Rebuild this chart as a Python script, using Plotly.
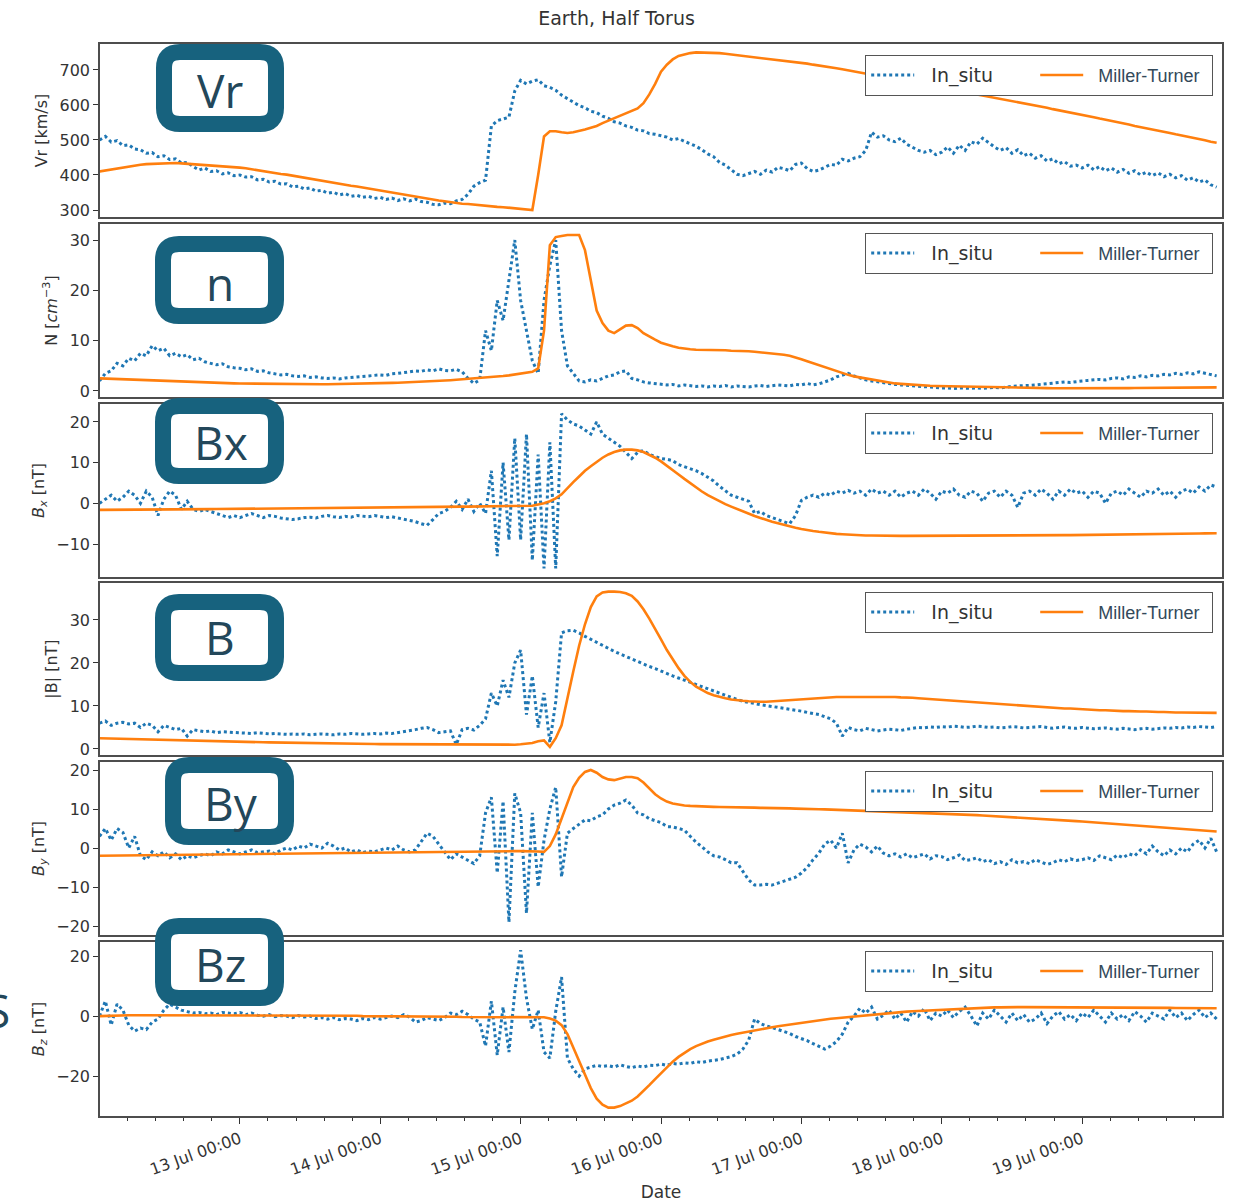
import pandas as pd
import plotly.graph_objects as go

# ---------------------------------------------------------------------------
# Hourly time grid, 12 Jul 00:00 to 19 Jul 23:00
# ---------------------------------------------------------------------------
TIMES = pd.date_range("2012-07-12 00:00", periods=192, freq="h")

# Solar wind radial speed [km/s]
VR_INSITU = [
    500, 510, 494, 498, 484, 486, 474, 472, 462, 464, 452, 455, 444, 446, 434, 436, 424, 414, 420, 410, 412, 403, 406, 398,
    400, 394, 395, 386, 388, 380, 382, 374, 375, 366, 368, 360, 363, 354, 356, 348, 351, 343, 347, 339, 342, 336, 339, 333,
    336, 330, 334, 327, 332, 326, 331, 324, 322, 316, 315, 320, 318, 326, 330, 345, 368, 378, 385, 540, 555, 560, 565, 640,
    670, 660, 668, 672, 655, 650, 642, 628, 618, 608, 598, 592, 582, 578, 568, 562, 552, 548, 540, 536, 528, 526, 518, 516,
    512, 508, 500, 504, 496, 490, 482, 472, 460, 452, 436, 428, 415, 402, 398, 404, 410, 402, 414, 408, 422, 418, 412, 430,
    434, 418, 410, 414, 422, 430, 428, 445, 440, 448, 452, 470, 522, 508, 512, 500, 495, 505, 488, 480, 470, 465, 470, 458,
    465, 480, 462, 485, 470, 495, 488, 505, 492, 480, 470, 478, 462, 472, 455, 462, 448, 455, 440, 446, 432, 438, 425, 428,
    420, 428, 415, 424, 412, 420, 408, 416, 405, 412, 400, 408, 398, 406, 395, 402, 392, 398, 385, 392, 380, 386, 372, 365,
]
VR_MODEL = [
    410, 413, 416, 419, 422, 425, 427, 429, 431, 432, 433, 434, 434, 434, 433, 432, 431, 430, 429, 428, 427, 425, 424, 423,
    421, 419, 416, 414, 411, 409, 406, 403, 401, 398, 394, 391, 388, 386, 383, 380, 378, 375, 372, 369, 367, 364, 361, 358,
    355, 352, 349, 346, 343, 340, 337, 335, 332, 330, 327, 325, 322, 320, 318, 317, 315, 314, 313, 311, 309, 308, 306, 305,
    303, 302, 300, 400, 510, 525, 525, 522, 520, 522, 525, 530, 535, 540, 548, 555, 562, 570, 575, 582, 590, 605, 630, 660,
    695, 715, 730, 740, 745, 748, 750, 750, 750, 749, 748, 746, 744, 743, 742, 740, 738, 736, 734, 732, 730, 727, 725, 722,
    720, 718, 715, 713, 710, 708, 705, 702, 699, 696, 693, 690, 687, 684, 681, 678, 674, 671, 668, 665, 662, 659, 655, 652,
    649, 646, 643, 640, 636, 633, 630, 627, 624, 620, 617, 614, 611, 608, 604, 601, 598, 595, 592, 588, 585, 582, 579, 576,
    572, 568, 565, 561, 558, 554, 551, 547, 544, 540, 537, 533, 530, 527, 523, 520, 516, 513, 509, 506, 502, 499, 495, 492,
]

# Proton density [cm^-3]
N_INSITU = [
    2, 3.5, 4, 5.5, 5, 6.5, 6, 7.5, 7, 9, 8, 8.5, 7, 7.5, 6.8, 7.2, 6.2, 6.5, 5.8, 5.5, 5.2, 5.4, 4.8, 4.6,
    4.5, 4.2, 4.4, 3.9, 4, 3.6, 3.4, 3.2, 3.3, 3, 2.9, 3, 2.7, 2.8, 2.6, 2.5, 2.6, 2.4, 2.6, 2.7, 2.8, 2.9, 3, 3.1,
    3.2, 3.1, 3.4, 3.5, 3.6, 3.8, 4, 3.9, 4.2, 4, 4.4, 4.1, 4, 4.3, 3.8, 2.5, 1.5, 2.2, 12, 8, 18, 14, 22, 30,
    18, 12, 6, 3.5, 18, 25, 30, 12, 5, 3.5, 2, 1.8, 2.2, 2, 2.5, 3, 3.2, 3.8, 4, 2.5, 2.2, 1.8, 1.6, 1.5,
    1.4, 1.2, 1.3, 1, 1.2, 1, 0.9, 1, 0.8, 1, 0.9, 1.1, 0.8, 1, 0.9, 0.8, 1, 1.1, 0.9, 1, 1.2, 1.1, 1, 1.3,
    1.2, 1.5, 1.2, 1.4, 1.8, 2.2, 2.8, 3.2, 3.5, 3, 2.6, 2.2, 2, 1.8, 1.6, 1.5, 1.3, 1.2, 1.1, 1, 0.9, 0.8, 0.8, 0.7,
    0.6, 0.6, 0.5, 0.6, 0.5, 0.5, 0.6, 0.5, 0.6, 0.7, 0.6, 0.8, 0.9, 1, 1, 1.1, 1.2, 1.3, 1.4, 1.5, 1.6, 1.8, 1.7, 1.9,
    2, 2.1, 2.2, 2.3, 2.2, 2.5, 2.6, 2.4, 2.8, 2.7, 3, 2.8, 3.1, 3, 3.3, 3.2, 3.5, 3.3, 3.6, 3.4, 3.8, 3.5, 3.2, 3,
]
N_MODEL = [
    2.5, 2.45, 2.4, 2.35, 2.3, 2.25, 2.2, 2.15, 2.1, 2.05, 2.0, 1.95, 1.9, 1.85, 1.8, 1.76, 1.72, 1.68, 1.64, 1.6, 1.57, 1.54, 1.51, 1.5,
    1.48, 1.46, 1.44, 1.42, 1.4, 1.38, 1.36, 1.35, 1.34, 1.33, 1.32, 1.32, 1.32, 1.33, 1.34, 1.35, 1.36, 1.38, 1.4, 1.42, 1.44, 1.46, 1.48, 1.5,
    1.53, 1.56, 1.6, 1.64, 1.68, 1.72, 1.77, 1.82, 1.88, 1.94, 2.0, 2.07, 2.14, 2.22, 2.3, 2.38, 2.47, 2.56, 2.66, 2.76, 2.87, 2.98, 3.1, 3.25,
    3.4, 3.6, 3.8, 4.5, 12, 29, 30.6, 30.8, 31, 31, 31, 28, 22, 16, 13.5, 12, 11.5, 12.2, 13, 13.1, 12.5, 11.5, 10.8, 10.2,
    9.6, 9.2, 8.9, 8.6, 8.4, 8.3, 8.2, 8.2, 8.2, 8.2, 8.1, 8.1, 8.0, 8.0, 7.9, 7.9, 7.8, 7.7, 7.6, 7.5, 7.4, 7.2, 7.0, 6.7,
    6.3, 5.9, 5.5, 5.1, 4.7, 4.3, 3.9, 3.5, 3.2, 2.9, 2.7, 2.4, 2.2, 2.0, 1.8, 1.65, 1.5, 1.4, 1.3, 1.22, 1.15, 1.08, 1.03, 1.0,
    0.97, 0.93, 0.9, 0.87, 0.84, 0.81, 0.78, 0.76, 0.74, 0.72, 0.7, 0.68, 0.66, 0.64, 0.62, 0.6, 0.58, 0.57, 0.56, 0.55, 0.54, 0.54, 0.53, 0.53,
    0.53, 0.53, 0.53, 0.54, 0.54, 0.55, 0.55, 0.56, 0.57, 0.58, 0.59, 0.6, 0.61, 0.62, 0.63, 0.64, 0.65, 0.66, 0.67, 0.68, 0.69, 0.7, 0.71, 0.72,
]

# Magnetic field, x component [nT]
BX_INSITU = [
    0, 1, 2, 0.5, 1.5, 3, 2, 0, 3, 1.5, -3, 1, 3, 2, -1.5, 0.5, -1.5, -2, -1.5, -2, -2.5, -3, -3.5, -3,
    -3.5, -3, -2.5, -3, -3.5, -3, -3.2, -3.6, -3.8, -4, -3.8, -3.5, -3.4, -3.6, -3.2, -3, -3.3, -3.5, -3.2, -3.4, -3, -3.2, -3.3, -3,
    -3.2, -3.5, -3.3, -3.6, -4, -4.2, -4.5, -5, -5.4, -4, -2.5, -2, -1, 0.5, -1.5, 1, -2, 0, -2.5, 8, -13, 10, -9, 16,
    -9, 17, -14, 12, -16, 15, -16, 22, 20.5, 19.5, 19, 18, 17, 20, 17, 16, 15, 14, 12.5, 11, 12.5, 13, 12, 11.5,
    11, 10.8, 10.5, 9.5, 9, 8.5, 8, 7.3, 6.5, 5.5, 4.2, 3, 2, 1.5, 1, 0.5, -2.5, -2, -3, -3.5, -4, -4.5, -5, -3,
    0.7, 1.5, 2, 1.5, 2.5, 2, 3, 2.5, 3.2, 2.5, 3, 2, 3.5, 2.5, 3, 2, 3, 1.5, 2.5, 3, 2, 3.5, 2.5, 1,
    3, 2.5, 3.5, 2, 1.5, 3, 2.5, 0.5, 2.5, 3, 1.5, 3, 2, -1, 2.5, 3, 2, 3.5, 2.5, 1, 3, 2, 3.5, 2.5,
    3, 1.5, 3, 2.5, 0, 2.5, 3, 2, 3.5, 2.5, 1.5, 3, 2.5, 3.5, 2, 3, 1.5, 3, 3.5, 2.5, 4, 3, 4.5, 4,
]
BX_MODEL = [
    -1.6, -1.6, -1.59, -1.58, -1.57, -1.56, -1.55, -1.54, -1.53, -1.52, -1.51, -1.5, -1.49, -1.48, -1.47, -1.46, -1.45, -1.44, -1.43, -1.42, -1.41, -1.4, -1.39, -1.38,
    -1.35, -1.34, -1.32, -1.31, -1.3, -1.28, -1.27, -1.26, -1.24, -1.23, -1.22, -1.2, -1.19, -1.18, -1.16, -1.15, -1.14, -1.12, -1.11, -1.1, -1.08, -1.07, -1.06, -1.04,
    -1.03, -1.01, -1.0, -0.98, -0.97, -0.95, -0.94, -0.92, -0.91, -0.89, -0.88, -0.86, -0.85, -0.83, -0.82, -0.8, -0.79, -0.77, -0.76, -0.74, -0.73, -0.71, -0.7, -0.68,
    -0.66, -0.63, -0.6, -0.3, 0, 0.5, 1.2, 2.2, 3.8, 5.2, 6.6, 8.0, 9.1, 10.2, 11.2, 12, 12.6, 13, 13.2, 13.2, 13, 12.6, 12, 11.2,
    10.3, 9.3, 8.2, 7.1, 6.0, 4.9, 3.9, 2.9, 2.0, 1.2, 0.5, -0.2, -0.8, -1.4, -2.0, -2.6, -3.1, -3.6, -4.1, -4.5, -4.9, -5.3, -5.7, -6.0,
    -6.3, -6.6, -6.8, -7.0, -7.2, -7.3, -7.5, -7.6, -7.7, -7.8, -7.8, -7.9, -7.9, -7.95, -8.0, -8.0, -8.0, -8.0, -8.0, -8.0, -8.0, -8.0, -8.0, -8.0,
    -8.0, -8.0, -8.0, -8.0, -8.0, -8.0, -7.99, -7.98, -7.97, -7.96, -7.95, -7.94, -7.93, -7.92, -7.91, -7.9, -7.89, -7.88, -7.86, -7.85, -7.84, -7.82, -7.81, -7.8,
    -7.78, -7.77, -7.75, -7.74, -7.72, -7.7, -7.68, -7.67, -7.65, -7.63, -7.61, -7.59, -7.57, -7.55, -7.53, -7.51, -7.49, -7.47, -7.45, -7.43, -7.41, -7.39, -7.37, -7.35,
]

# Magnetic field magnitude [nT]
B_INSITU = [
    6, 6.5, 5.5, 6, 6.2, 5.8, 6, 5, 6, 5.5, 4, 5.5, 5, 4.5, 4.8, 3, 4.5, 4.2, 4, 4.2, 3.8, 4, 3.9, 3.8,
    3.8, 3.7, 3.6, 3.8, 3.6, 3.5, 3.6, 3.5, 3.4, 3.5, 3.4, 3.5, 3.3, 3.4, 3.5, 3.4, 3.3, 3.5, 3.4, 3.6, 3.5, 3.4, 3.5, 3.6,
    3.5, 3.7, 3.6, 3.8, 4, 4.3, 4.5, 4.8, 5, 4.5, 3.8, 4, 4.2, 1, 4.5, 4.8, 4.4, 5.5, 7, 13, 10, 16, 12, 20,
    23, 8, 17, 5, 13, 1.5, 11, 27, 27.5, 27.6, 27, 26.2, 25.5, 24.8, 24, 23.3, 22.7, 22.1, 21.5, 20.9, 20.3, 19.7, 19.2, 18.7,
    18.1, 17.6, 17.0, 16.5, 16.0, 15.5, 15.0, 14.4, 13.9, 13.4, 12.9, 12.4, 11.9, 11.5, 11.1, 10.8, 10.5, 10.3, 10.1, 9.9, 9.7, 9.5, 9.2, 9.0,
    8.8, 8.5, 8.3, 8.0, 7.5, 7.0, 6, 3, 5, 4.5, 4.2, 4.8, 4.5, 4.2, 4.4, 4.6, 4.5, 4.3, 4.6, 4.8, 5, 4.9, 5.1, 5,
    5.2, 5.1, 5.3, 5.2, 5, 5.1, 5.3, 5.2, 5, 5.1, 4.9, 5, 5.2, 5.1, 4.9, 5, 5.1, 5.2, 5, 4.8, 5, 5.1, 4.9, 4.8,
    5, 4.9, 4.7, 4.8, 4.9, 4.7, 4.6, 4.8, 4.7, 4.5, 4.7, 4.8, 4.6, 4.7, 4.9, 4.8, 5, 4.9, 5.1, 5, 5.2, 5.1, 5, 5.2,
]
B_MODEL = [
    2.5, 2.46, 2.42, 2.38, 2.34, 2.3, 2.26, 2.22, 2.18, 2.14, 2.1, 2.07, 2.04, 2.01, 1.98, 1.95, 1.92, 1.89, 1.86, 1.83, 1.8, 1.77, 1.74, 1.71,
    1.68, 1.65, 1.62, 1.59, 1.56, 1.53, 1.5, 1.48, 1.46, 1.44, 1.42, 1.4, 1.38, 1.36, 1.34, 1.32, 1.3, 1.28, 1.26, 1.24, 1.22, 1.2, 1.18, 1.16,
    1.14, 1.13, 1.12, 1.11, 1.1, 1.09, 1.08, 1.07, 1.06, 1.05, 1.04, 1.03, 1.02, 1.01, 1.0, 1.0, 1.0, 1.0, 1.0, 1.0, 1.0, 1.0, 1.0, 1.0,
    1.1, 1.2, 1.4, 1.8, 2.0, 0.5, 2.5, 5.5, 12, 18, 24, 29, 33, 35.5, 36.4, 36.6, 36.6, 36.5, 36.2, 35.6, 34.3, 32.5, 30.3, 28,
    25.5, 23, 20.8, 18.8, 17.0, 15.6, 14.5, 13.7, 13.0, 12.5, 12.1, 11.8, 11.5, 11.3, 11.2, 11.1, 11.0, 11.0, 11.0, 11.1, 11.2, 11.3, 11.4, 11.5,
    11.6, 11.7, 11.8, 11.9, 12.0, 12.0, 12.1, 12.1, 12.1, 12.2, 12.2, 12.2, 12.2, 12.2, 12.2, 12.1, 12.1, 12.0, 12.0, 11.9, 11.8, 11.7, 11.6, 11.5,
    11.4, 11.3, 11.2, 11.1, 11.0, 10.9, 10.8, 10.7, 10.6, 10.5, 10.4, 10.3, 10.2, 10.1, 10.0, 9.9, 9.8, 9.7, 9.7, 9.6, 9.5, 9.4, 9.4, 9.3,
    9.2, 9.2, 9.1, 9.0, 9.0, 8.9, 8.9, 8.8, 8.8, 8.7, 8.7, 8.7, 8.6, 8.6, 8.6, 8.5, 8.5, 8.5, 8.5, 8.4, 8.4, 8.4, 8.4, 8.4,
]

# Magnetic field, y component [nT]
BY_INSITU = [
    3, 5, 2, 5, 4, 0, 3, -2, -3, -1, -2, -1, -2.5, -1.5, -3, -2, -2.5, -2, -1.5, -2, -1, -1.5, -0.5, -1,
    -1.5, -1, -0.5, -1.2, -1, -0.8, -1.5, -0.5, 0, -0.5, 0.5, 0, 1, 0.5, 0, 1.2, 0.5, -0.5, 0, -1, -0.5, -1.2, -0.8, -1,
    -0.5, 0, -0.5, 0.5, -0.5, -1, -0.5, 1.5, 3.8, 3, 1, -1, -3, -1.5, -2.3, -3, -4, -2, 9, 13, -6.4, 12, -19, 14,
    9, -16.7, 9, -10, 2, 10, 15.6, -7.4, 3.8, 5, 6, 7.2, 7, 8, 8.5, 10, 11, 11.5, 12.3, 11, 9, 8.5, 7.5, 7,
    6.5, 5.5, 5.4, 5, 4.6, 3, 1.5, 0.3, -1, -2, -2.3, -3, -3.8, -3.8, -6, -8.2, -9.5, -9.5, -9.3, -9.5, -9, -8.5, -8.2, -7.5,
    -6.4, -5, -3, -1.3, 1, 2, 0, 3.8, -3.8, -0.5, 1, 0.3, -1, 0.5, -1.3, -2, -1.5, -2.3, -1.5, -2.5, -2, -1.5, -2.8, -2,
    -2.2, -3, -2.5, -1.8, -3.2, -3, -2.5, -3.5, -3, -4, -3.5, -4.2, -3, -3.8, -3.5, -4, -3, -3.5, -4.2, -3.8, -3, -3.5, -2.8, -3.2,
    -3, -2.5, -3.2, -2, -2.5, -3, -1.8, -2.5, -1.5, -2, -0.5, -1.5, 0.5, -1, -2, -0.5, -1.5, 0, -1, 1, 2, 0, 2.5, -1,
]
BY_MODEL = [
    -2, -1.98, -1.96, -1.94, -1.92, -1.9, -1.88, -1.86, -1.84, -1.82, -1.8, -1.78, -1.76, -1.74, -1.72, -1.7, -1.68, -1.66, -1.64, -1.62, -1.6, -1.58, -1.56, -1.54,
    -1.52, -1.5, -1.48, -1.46, -1.44, -1.42, -1.4, -1.38, -1.36, -1.34, -1.32, -1.3, -1.28, -1.26, -1.24, -1.22, -1.2, -1.18, -1.16, -1.14, -1.12, -1.1, -1.08, -1.06,
    -1.04, -1.02, -1.0, -0.99, -0.98, -0.97, -0.96, -0.95, -0.94, -0.93, -0.92, -0.91, -0.9, -0.89, -0.88, -0.87, -0.86, -0.85, -0.84, -0.83, -0.82, -0.81, -0.8, -0.8,
    -0.8, -0.8, -0.8, -0.9, -1, 0.5, 3.5, 7.5, 12, 15.6, 18, 19.5, 20, 19.3, 18.2, 17.6, 17.4, 17.8, 18.2, 18.2, 17.9, 16.8, 15.2, 13.8,
    12.7, 11.9, 11.4, 11.1, 10.9, 10.8, 10.7, 10.6, 10.6, 10.55, 10.5, 10.5, 10.45, 10.45, 10.4, 10.4, 10.35, 10.3, 10.3, 10.25, 10.2, 10.2, 10.15, 10.1,
    10.1, 10.05, 10.0, 9.95, 9.9, 9.85, 9.8, 9.75, 9.7, 9.65, 9.6, 9.55, 9.5, 9.45, 9.4, 9.35, 9.3, 9.25, 9.2, 9.15, 9.1, 9.05, 9.0, 8.93,
    8.86, 8.79, 8.72, 8.65, 8.58, 8.5, 8.42, 8.34, 8.26, 8.18, 8.1, 8.0, 7.91, 7.82, 7.73, 7.64, 7.55, 7.46, 7.37, 7.28, 7.18, 7.08, 6.98, 6.88,
    6.78, 6.67, 6.56, 6.45, 6.34, 6.23, 6.12, 6.0, 5.89, 5.78, 5.67, 5.56, 5.45, 5.34, 5.23, 5.12, 5.01, 4.9, 4.79, 4.68, 4.57, 4.46, 4.35, 4.24,
]

# Magnetic field, z component [nT]
BZ_INSITU = [
    0, 5, -3, 4, 2, -3, -5, -4, -4.5, -2, -1, 2, 4, 3, 2, 1.5, 1, 1.2, 0.8, 1, 0.5, 1.2, 1, 0.8,
    1.2, 0.5, 1, 0.3, 0, 0.5, -0.2, 0.2, 0, -0.5, 0.2, -0.3, 0, -0.8, -0.5, -1, -0.5, -1.2, -0.8, -1, -1.5, -0.8, -1.2, -0.5,
    -1, -0.5, 0, -0.5, 0.5, -0.3, -2, -1.5, -0.5, -1, -1.5, -0.5, 1, 0.5, 1.6, 0.5, -1, -2, -10, 5, -13, 3, -12, 8,
    22, 6, -4.4, 2, -12, -14, 1.6, 13, -14, -17.6, -20, -17.6, -17, -16.4, -16.8, -16.5, -17, -16.2, -16.8, -17.2, -16.6, -17, -16.4, -16.5,
    -16, -16.4, -15.8, -16, -15.6, -15.8, -15.2, -15.5, -15, -14.8, -14.5, -14, -13.5, -12.7, -11, -8, -1, -2.5, -3.3, -3.8, -4.4, -5, -5.8, -6.8,
    -7.5, -8.2, -9.2, -10, -11, -10, -8.5, -6, -2, 0, 2.6, 1, 3, -1, 0.3, 2, -1, 1, -2, 1.5, 0, 2.5, -1.5, 1,
    0, 2, -0.5, 1.6, 3, 0, -3.3, 1, -1, 2, 0, -2, 1, -1.5, 0.5, -2, -1, 1, -2.5, 0, 1.5, -1, 0.5, -1.5,
    1, -0.5, 2, 0, -2, 1, -1, 0.5, -1.5, 1.5, 0, -2, 1, 0, -1, 2, -0.5, 1, -1.5, 0.5, 2, -0.5, 1, -1,
]
BZ_MODEL = [
    0, 0.1, 0.2, 0.2, 0.3, 0.3, 0.3, 0.3, 0.3, 0.3, 0.3, 0.3, 0.3, 0.3, 0.3, 0.3, 0.3, 0.3, 0.3, 0.3, 0.3, 0.3, 0.3, 0.3,
    0.3, 0.3, 0.3, 0.3, 0.3, 0.3, 0.3, 0.2, 0.2, 0.2, 0.2, 0.2, 0.2, 0.2, 0.1, 0.1, 0.1, 0.1, 0.1, 0.1, 0.1, 0.0, 0.0, 0.0,
    0.0, 0.0, 0.0, -0.1, -0.1, -0.1, -0.1, -0.1, -0.2, -0.2, -0.2, -0.2, -0.2, -0.2, -0.3, -0.3, -0.3, -0.3, -0.3, -0.3, -0.3, -0.3, -0.3, -0.3,
    -0.3, -0.3, -0.3, -0.3, -0.4, -0.8, -1.5, -3, -6, -10.5, -15, -19.5, -24, -27.5, -29.5, -30.5, -30.5, -30, -29.2, -28.2, -26.8, -25, -23, -21,
    -19, -17, -15.2, -13.6, -12.2, -11, -10, -9.2, -8.5, -7.9, -7.3, -6.8, -6.3, -5.9, -5.5, -5.1, -4.7, -4.4, -4.0, -3.7, -3.4, -3.1, -2.8, -2.5,
    -2.2, -1.9, -1.6, -1.4, -1.1, -0.9, -0.7, -0.5, -0.3, -0.1, 0.1, 0.3, 0.5, 0.7, 0.9, 1.0, 1.2, 1.3, 1.5, 1.6, 1.7, 1.9, 2.0, 2.1,
    2.2, 2.3, 2.4, 2.5, 2.6, 2.6, 2.7, 2.8, 2.8, 2.9, 2.9, 3.0, 3.0, 3.0, 3.0, 3.0, 3.0, 3.0, 3.0, 3.0, 3.0, 3.0, 3.0, 3.0,
    3.0, 3.0, 3.0, 3.0, 2.95, 2.95, 2.9, 2.9, 2.9, 2.85, 2.85, 2.8, 2.8, 2.8, 2.75, 2.75, 2.7, 2.7, 2.7, 2.65, 2.65, 2.6, 2.6, 2.6,
]

INSITU_SERIES = [VR_INSITU, N_INSITU, BX_INSITU, B_INSITU, BY_INSITU, BZ_INSITU]
MODEL_SERIES = [VR_MODEL, N_MODEL, BX_MODEL, B_MODEL, BY_MODEL, BZ_MODEL]

PANEL_TAGS = ["Vr", "n", "Bx", "B", "By", "Bz"]
Y_TITLES = [
    "Vr [km/s]",
    "N [<i>cm</i><sup>−3</sup>]",
    "<i>B<sub>x</sub></i> [nT]",
    "|B| [nT]",
    "<i>B<sub>y</sub></i> [nT]",
    "<i>B<sub>z</sub></i> [nT]",
]
Y_TICKS = [
    [300, 400, 500, 600, 700],
    [0, 10, 20, 30],
    [-10, 0, 10, 20],
    [0, 10, 20, 30],
    [-20, -10, 0, 10, 20],
    [-20, 0, 20],
]
Y_RANGES = [
    [280, 774],
    [-1.2, 33.2],
    [-18.1, 24.4],
    [-1.4, 38.6],
    [-22.3, 22.05],
    [-33.3, 24.7],
]

# ---------------------------------------------------------------------------
# Page geometry (pixels) and helpers to convert into paper coordinates
# ---------------------------------------------------------------------------
FIG_W, FIG_H = 1233, 1202
PLOT_L, PLOT_R, PLOT_T, PLOT_B = 100, 1222, 44, 1116
PANEL_PX = [(44, 217), (224, 397), (404, 577), (583, 755), (762, 935), (942, 1116)]
LEGEND_TOP_PX = [55, 233, 413, 592, 771, 951]
# tag boxes: (left, top, right, bottom) of the border centre line, text centre
TAG_BOX_PX = [
    (164, 52, 276, 124, 220, 90),
    (163, 244, 276, 316, 220, 283),
    (163, 406, 276, 476, 221, 442),
    (163, 602, 276, 673, 220, 637),
    (173, 765, 286, 837, 231, 803),
    (163, 926, 276, 998, 220, 964),
]

TEAL = "#17627e"
TAG_TEXT = "#23475a"
FONT = "DejaVu Sans"
TXT = "#333333"
FRAME = "#4d4d4d"
NBSP = "\u00a0"


def px(x):
    return (x - PLOT_L) / (PLOT_R - PLOT_L)


def py(y):
    return (PLOT_B - y) / (PLOT_B - PLOT_T)


def rounded_path(x0, y0, x1, y1, r):
    pts = [
        ("M", [(x0 + r, y0)]),
        ("L", [(x1 - r, y0)]),
        ("Q", [(x1, y0), (x1, y0 + r)]),
        ("L", [(x1, y1 - r)]),
        ("Q", [(x1, y1), (x1 - r, y1)]),
        ("L", [(x0 + r, y1)]),
        ("Q", [(x0, y1), (x0, y1 - r)]),
        ("L", [(x0, y0 + r)]),
        ("Q", [(x0, y0), (x0 + r, y0)]),
    ]
    out = []
    for cmd, coords in pts:
        out.append(cmd + " ".join(f"{px(a):.5f},{py(b):.5f}" for a, b in coords))
    return " ".join(out) + " Z"


fig = go.Figure()

x_range = ["2012-07-12 00:05", "2012-07-19 23:55"]
insitu_name = NBSP * 2 + "In_situ"
model_name = ('<span style="font-family:Liberation Sans, Arial, sans-serif;'
              'font-size:18px;color:#33495a">' + NBSP * 2 + "Miller-Turner</span>")

for i in range(6):
    sfx = "" if i == 0 else str(i + 1)
    leg = "legend" if i == 0 else f"legend{i + 1}"
    ins = INSITU_SERIES[i]
    mod = MODEL_SERIES[i]
    fig.add_trace(go.Scatter(
        x=TIMES[:len(ins)], y=ins, mode="lines", name=insitu_name,
        line=dict(color="#1f77b4", width=3, dash="dot"),
        xaxis="x" + sfx, yaxis="y" + sfx, legend=leg, legendwidth=111,
        hoverinfo="skip",
    ))
    fig.add_trace(go.Scatter(
        x=TIMES[:len(mod)], y=mod, mode="lines", name=model_name,
        line=dict(color="#ff7f0e", width=2.6),
        xaxis="x" + sfx, yaxis="y" + sfx, legend=leg, legendwidth=118,
        hoverinfo="skip",
    ))

layout = dict(
    template="none",
    width=FIG_W, height=FIG_H,
    margin=dict(l=PLOT_L, r=FIG_W - PLOT_R, t=PLOT_T, b=FIG_H - PLOT_B),
    paper_bgcolor="white", plot_bgcolor="white",
    font=dict(family=FONT, size=16, color=TXT),
    title=dict(text="Earth, Half Torus", x=0.5, xref="container", xanchor="center",
               y=1 - 18 / FIG_H, yref="container", yanchor="middle",
               font=dict(family=FONT, size=19, color=TXT)),
    showlegend=True,
)

for i in range(6):
    sfx = "" if i == 0 else str(i + 1)
    top, bot = PANEL_PX[i]
    last = i == 5
    xa = dict(
        domain=[0, 1], anchor="y" + sfx, range=x_range, type="date",
        showline=True, mirror=True, linecolor=FRAME, linewidth=1.6,
        showgrid=False, zeroline=False,
        ticks="outside" if last else "", showticklabels=last,
        tickformat="%d %b %H:%M", dtick=86400000, tick0="2012-07-12",
        tickangle=-20, ticklen=6, tickwidth=1.2, tickcolor=TXT,
        tickfont=dict(family=FONT, size=16, color=TXT),
    )
    if i > 0:
        xa["matches"] = "x"
    if last:
        xa["minor"] = dict(ticks="outside", ticklen=3.5, tickwidth=1, tickcolor=TXT,
                           dtick=4.8 * 3600 * 1000, tick0="2012-07-12", showgrid=False)
        xa["title"] = dict(text="Date", standoff=10, font=dict(family=FONT, size=17, color=TXT))
    layout["xaxis" + sfx] = xa
    layout["yaxis" + sfx] = dict(
        domain=[py(bot), py(top)], anchor="x" + sfx, range=Y_RANGES[i],
        tickvals=Y_TICKS[i], showline=True, mirror=True, linecolor=FRAME, linewidth=1.6,
        showgrid=False, zeroline=False, ticks="outside", ticklen=5, tickwidth=1.2, tickcolor=TXT,
        tickfont=dict(family=FONT, size=16, color=TXT),
        title=dict(text=Y_TITLES[i], standoff=8, font=dict(family=FONT, size=16, color=TXT)),
    )
    leg = "legend" if i == 0 else f"legend{i + 1}"
    layout[leg] = dict(
        x=px(865), y=py(LEGEND_TOP_PX[i]), xref="paper", yref="paper",
        xanchor="left", yanchor="top", orientation="h",
        bgcolor="white", bordercolor="#555555", borderwidth=1.2,
        font=dict(family=FONT, size=19, color=TXT), itemwidth=43,
        itemclick=False, itemdoubleclick=False,
    )

fig.update_layout(**layout)

# Rounded tag boxes labelling each panel
shapes = []
annotations = []
for i, (x0, y0, x1, y1, tx, ty) in enumerate(TAG_BOX_PX):
    shapes.append(dict(
        type="path", xref="paper", yref="paper", layer="above",
        path=rounded_path(x0, y0, x1, y1, 16),
        line=dict(color=TEAL, width=16), fillcolor="white",
    ))
    annotations.append(dict(
        text=PANEL_TAGS[i], xref="paper", yref="paper", x=px(tx), y=py(ty),
        xanchor="center", yanchor="middle", showarrow=False,
        font=dict(family="Open Sans", size=46, color=TAG_TEXT),
    ))

# Partial slide letter at the left page edge
annotations.append(dict(
    text="S", xref="paper", yref="paper", x=px(12), y=py(1010),
    xanchor="right", yanchor="middle", showarrow=False,
    font=dict(family="Open Sans", size=46, color=TAG_TEXT),
))

fig.update_layout(shapes=shapes, annotations=annotations)

fig.write_html("out.html")
